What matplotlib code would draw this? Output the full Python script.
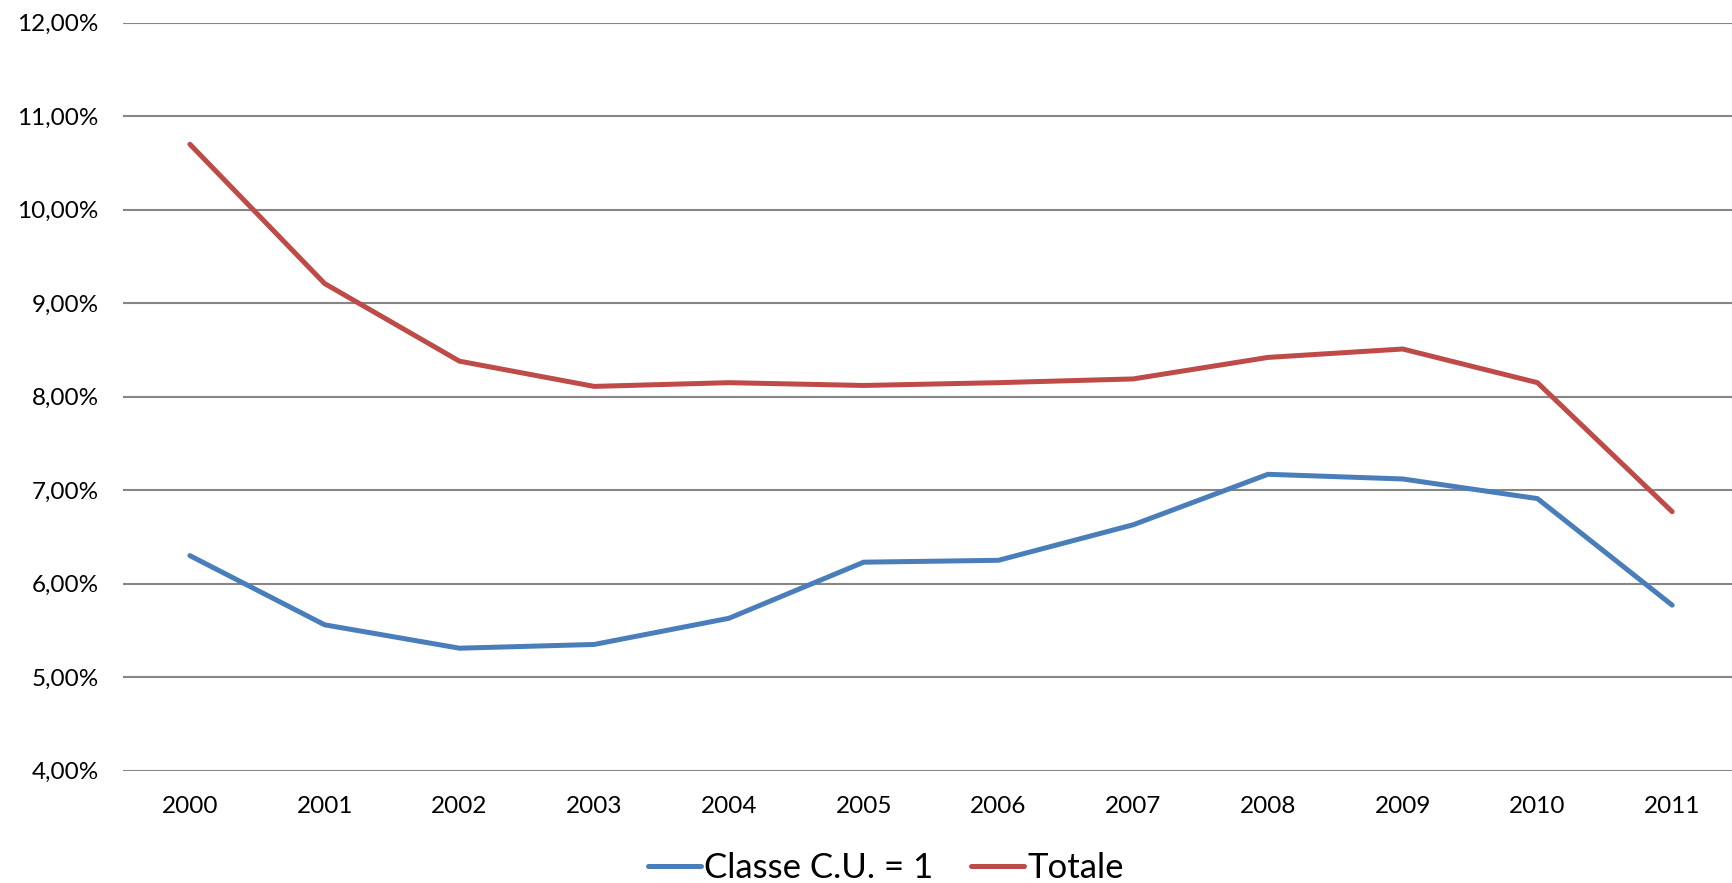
import matplotlib.pyplot as plt
from matplotlib.ticker import FuncFormatter

plt.rcParams['font.family'] = ['Lato', 'DejaVu Sans']

anni = ['2000', '2001', '2002', '2003', '2004', '2005',
        '2006', '2007', '2008', '2009', '2010', '2011']
classe_cu1 = [6.30, 5.56, 5.31, 5.35, 5.63, 6.23, 6.25, 6.63, 7.17, 7.12, 6.91, 5.77]
totale = [10.70, 9.21, 8.38, 8.11, 8.15, 8.12, 8.15, 8.19, 8.42, 8.51, 8.15, 6.77]

blu = '#4A7EBB'
rosso = '#BE4B48'

fig = plt.figure(figsize=(17.33, 8.83), dpi=100)
ax = fig.add_axes([0.0707, 0.1272, 0.9331, 0.8471])

x = range(len(anni))
ax.plot(x, classe_cu1, color=blu, lw=3.6, solid_capstyle='round', label='Classe C.U. = 1')
ax.plot(x, totale, color=rosso, lw=3.6, solid_capstyle='round', label='Totale')

ax.set_xlim(-0.5, len(anni) - 0.5)
ax.set_ylim(4, 12)
ax.set_yticks(range(4, 13))
ax.yaxis.set_major_formatter(FuncFormatter(lambda v, p: f"{v:.2f}".replace('.', ',') + '%'))
ax.set_xticks(list(x))
ax.set_xticklabels(anni)

ax.grid(axis='y', color='#868686', lw=1.5)
ax.set_axisbelow(True)
for s in ax.spines.values():
    s.set_visible(False)
ax.tick_params(axis='both', length=0, labelsize=17.5)
ax.tick_params(axis='y', pad=17)
ax.tick_params(axis='x', pad=18)

fig.legend(loc='center', bbox_to_anchor=(886 / 1733, 1 - 868 / 883), ncol=2,
           frameon=False, fontsize=25, handlelength=1.5, handletextpad=0.1,
           columnspacing=1.1)

fig.savefig('out.png', dpi=100)
